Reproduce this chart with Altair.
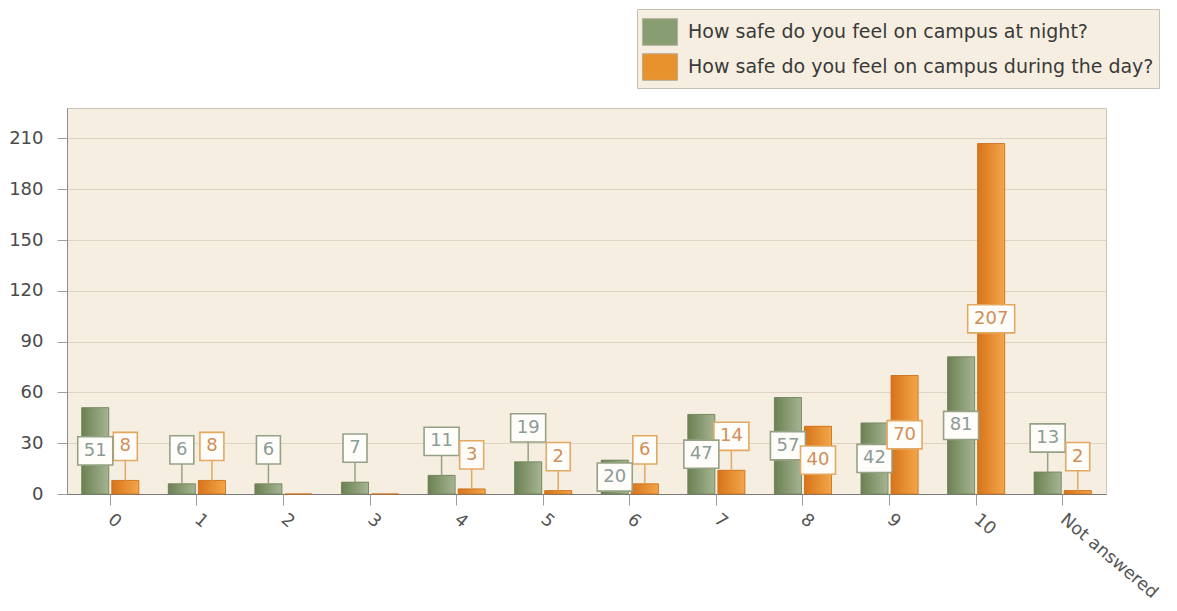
import altair as alt
import pandas as pd

categories = ["0", "1", "2", "3", "4", "5", "6", "7", "8", "9", "10", "Not answered"]
night_values = [51, 6, 6, 7, 11, 19, 20, 47, 57, 42, 81, 13]
day_values = [8, 8, 0, 0, 3, 2, 6, 14, 40, 70, 207, 2]
series_names = [
    "How safe do you feel on campus at night?",
    "How safe do you feel on campus during the day?",
]
y_ticks = [0, 30, 60, 90, 120, 150, 180, 210]

rows = []
for c, v in zip(categories, night_values):
    rows.append({"cat": c, "series": series_names[0], "key": "n", "value": v})
for c, v in zip(categories, day_values):
    rows.append({"cat": c, "series": series_names[1], "key": "d", "value": v})
df = pd.DataFrame(rows)

FONT = "DejaVu Sans"
GREEN_TXT = "#8b9b98"
ORANGE_TXT = "#d08f58"
GREEN_BOX = "#95a285"
ORANGE_BOX = "#e3a862"

p1 = "M-0.51,-0.6L0.51,-0.6L0.51,0.6L-0.51,0.6Z"
p2 = "M-0.745,-0.6L0.745,-0.6L0.745,0.6L-0.745,0.6Z"
p3 = "M-1,-0.6L1,-0.6L1,0.6L-1,0.6Z"

base = alt.Chart(df).encode(
    x=alt.X(
        "cat:N",
        sort=categories,
        scale=alt.Scale(paddingInner=0.34, paddingOuter=0.17),
        axis=alt.Axis(
            title=None,
            labelAngle=40,
            labelAlign="left",
            labelBaseline="middle",
            tickSize=11,
            labelPadding=12,
            grid=False,
            domainColor="#7a7a7a",
            tickColor="#9a9a9a",
            labelFont=FONT,
            labelFontSize=17.5,
            labelColor="#555555",
        ),
    ),
    xOffset=alt.XOffset(
        "series:N",
        sort=series_names,
        scale=alt.Scale(domain=series_names, paddingInner=0.1, paddingOuter=0),
    ),
)

yscale = alt.Scale(domain=[0, 228], nice=False)
yenc = alt.Y(
    "value:Q",
    scale=yscale,
    axis=alt.Axis(
        title=None,
        values=y_ticks,
        tickSize=10,
        labelPadding=14,
        grid=True,
        gridColor="#ddd4c3",
        domainColor="#8a8a8a",
        tickColor="#a0a0a0",
        labelFont=FONT,
        labelFontSize=18,
        labelColor="#4a4a4a",
    ),
)

legend_bars = base.mark_bar().encode(
    y=yenc,
    color=alt.Color(
        "series:N",
        sort=series_names,
        scale=alt.Scale(domain=series_names, range=["#899d72", "#e8922e"]),
        legend=alt.Legend(
            title=None,
            orient="none",
            legendX=570,
            legendY=-99,
            direction="vertical",
            fillColor="#f6eee0",
            strokeColor="#c6c0b4",
            padding=5,
            symbolType="M-1,-0.76L1,-0.76L1,0.76L-1,0.76Z",
            symbolSize=1225,
            symbolStrokeColor="#b5ad9c",
            symbolStrokeWidth=1,
            symbolOpacity=1,
            labelFont=FONT,
            labelFontSize=19,
            labelColor="#3a3a3a",
            labelOffset=10,
            rowPadding=1,
            labelLimit=700,
        ),
    ),
)

green_grad = alt.Gradient(
    gradient="linear",
    x1=0, x2=1, y1=0, y2=0,
    stops=[alt.GradientStop(offset=0, color="#6b8152"), alt.GradientStop(offset=1, color="#a6b493")],
)
orange_grad = alt.Gradient(
    gradient="linear",
    x1=0, x2=1, y1=0, y2=0,
    stops=[alt.GradientStop(offset=0, color="#d8741a"), alt.GradientStop(offset=1, color="#f3a64a")],
)

green_bars = base.transform_filter("datum.key == 'n'").mark_bar(
    fill=green_grad, stroke="#6f8159", strokeWidth=0.8
).encode(y=yenc)
orange_bars = base.transform_filter("datum.key == 'd'").mark_bar(
    fill=orange_grad, stroke="#c86e1c", strokeWidth=0.8
).encode(y=yenc)

stroke_cond = alt.condition("datum.key == 'n'", alt.value(GREEN_BOX), alt.value(ORANGE_BOX))
text_cond = alt.condition("datum.key == 'n'", alt.value(GREEN_TXT), alt.value(ORANGE_TXT))
shape_enc = alt.Shape(
    "digits:N", scale=alt.Scale(domain=["1", "2", "3"], range=[p1, p2, p3]), legend=None
)

small = base.transform_filter("datum.value > 0 && datum.value < 20").transform_calculate(
    digits="toString(length(toString(datum.value)))"
)
mid = base.transform_filter("datum.value >= 20").transform_calculate(
    mid="datum.value / 2", digits="toString(length(toString(datum.value)))"
)

stems = small.mark_rule(y2Offset=-20, strokeWidth=1.5).encode(
    y=alt.Y("value:Q", scale=yscale), y2=alt.Y2("value:Q"), stroke=stroke_cond
)
small_boxes = small.mark_point(
    filled=True, fill="#fffdf9", size=2209, yOffset=-34, strokeWidth=1.6, opacity=1
).encode(y=alt.Y("value:Q", scale=yscale), shape=shape_enc, stroke=stroke_cond)
small_text = small.mark_text(
    dy=-34, font=FONT, fontSize=18, baseline="middle", align="center"
).encode(y=alt.Y("value:Q", scale=yscale), text="value:Q", color=text_cond)

mid_boxes = mid.mark_point(
    filled=True, fill="#fffdf9", size=2209, strokeWidth=1.6, opacity=1
).encode(y=alt.Y("mid:Q", scale=yscale), shape=shape_enc, stroke=stroke_cond)
mid_text = mid.mark_text(
    font=FONT, fontSize=18, baseline="middle", align="center"
).encode(y=alt.Y("mid:Q", scale=yscale), text="value:Q", color=text_cond)

chart = alt.layer(
    legend_bars, green_bars, orange_bars, stems, small_boxes, small_text, mid_boxes, mid_text
).properties(
    width=1039,
    height=386,
    padding={"left": 0, "top": 0, "right": 0, "bottom": 0},
    background="white",
).configure_view(
    fill="#f6eee0", stroke="#cdc6b8"
)

chart.save("out.html", embed_options={"renderer": "svg", "actions": False})
